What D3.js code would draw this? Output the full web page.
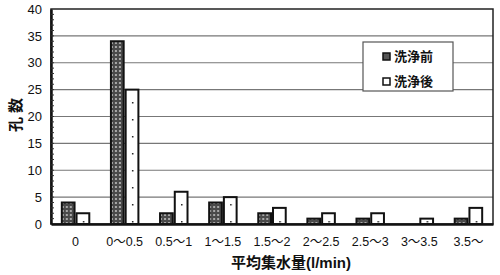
<!DOCTYPE html>
<html>
<head>
<meta charset="utf-8">
<script src="https://cdn.jsdelivr.net/npm/d3@7"></script>
<style>
  body { margin: 0; background: #fff; }
  svg { display: block; }
</style>
</head>
<body>
<div id="chart"></div>
<script>
// Data
var categories = ["0", "0～0.5", "0.5～1", "1～1.5", "1.5～2", "2～2.5", "2.5～3", "3～3.5", "3.5～"];
var seriesNames = ["洗浄前", "洗浄後"];
var before = [4, 34, 2, 4, 2, 1, 1, 0, 1];
var after = [2, 25, 6, 5, 3, 2, 2, 1, 3];
var yTicks = [0, 5, 10, 15, 20, 25, 30, 35, 40];

var W = 500, H = 275,
    font_family = "'Liberation Sans', 'Noto Sans CJK JP', sans-serif",
    margin = {top: 9, right: 7, bottom: 51, left: 51},
    width = W - margin.left - margin.right,
    height = H - margin.top - margin.bottom;

var svg = d3.select("#chart").append("svg")
  .attr("width", W)
  .attr("height", H);

// Patterns
var defs = svg.append("defs");
var p1 = defs.append("pattern")
  .attr("id", "pat-before")
  .attr("width", 4).attr("height", 4)
  .attr("patternUnits", "userSpaceOnUse");
p1.append("rect").attr("width", 4).attr("height", 4).attr("fill", "#4a4a4a");
p1.append("rect").attr("x", 1).attr("y", 1).attr("width", 2).attr("height", 2).attr("fill", "#a8a8a8");

var p2 = defs.append("pattern")
  .attr("id", "pat-after")
  .attr("width", 14).attr("height", 17)
  .attr("patternUnits", "userSpaceOnUse");
p2.append("rect").attr("width", 14).attr("height", 17).attr("fill", "#fff");
p2.append("rect").attr("x", 8).attr("y", 8).attr("width", 1.5).attr("height", 1.5).attr("fill", "#222");

var g = svg.append("g")
  .attr("transform", "translate(" + margin.left + "," + margin.top + ")");

// Scales
var x = d3.scaleBand().domain(categories).range([0, width]).paddingInner(0.4).paddingOuter(0.2);
var xs = d3.scaleBand().domain(seriesNames).range([0, x.bandwidth()]);
var y = d3.scaleLinear().domain([0, 40]).range([height, 0]);

// Grid lines
g.selectAll(".grid")
  .data(yTicks.filter(function(d){ return d > 0 && d < 40; }))
  .enter().append("line")
    .attr("x1", 0).attr("x2", width)
    .attr("y1", function(d){ return y(d); })
    .attr("y2", function(d){ return y(d); })
    .attr("stroke", "#777")
    .attr("stroke-width", 1.2);

// Bars
var groups = g.selectAll(".grp")
  .data(categories.map(function(c, i){ return {cat: c, vals: [before[i], after[i]]}; }))
  .enter().append("g")
    .attr("transform", function(d){ return "translate(" + x(d.cat) + ",0)"; });

groups.selectAll("rect")
  .data(function(d){ return d.vals.map(function(v, j){ return {name: seriesNames[j], value: v}; }); })
  .enter().append("rect")
    .filter(function(d){ return d.value > 0; })
    .attr("x", function(d){ return xs(d.name) + 1; })
    .attr("y", function(d){ return y(d.value); })
    .attr("width", xs.bandwidth() - 2)
    .attr("height", function(d){ return height - y(d.value); })
    .attr("fill", function(d, i){ return d.name == seriesNames[0] ? "url(#pat-before)" : "url(#pat-after)"; })
    .attr("stroke", "#111")
    .attr("stroke-width", 2);

// Frame (top / right)
g.append("rect")
  .attr("width", width).attr("height", height)
  .attr("fill", "none")
  .attr("stroke", "#222")
  .attr("stroke-width", 1.5);

// Y axis
var yAxis = g.append("g")
  .call(d3.axisLeft(y).tickValues(yTicks).tickSize(0).tickPadding(9));
yAxis.select(".domain").attr("stroke", "#111").attr("stroke-width", 2.5);
yAxis.selectAll("text")
  .attr("font-family", font_family)
  .attr("font-size", "13px")
  .attr("fill", "#111");

// Minor ticks
g.selectAll(".minor")
  .data(d3.range(1, 40))
  .enter().append("line")
    .attr("x1", 0).attr("x2", 3)
    .attr("y1", function(d){ return y(d); })
    .attr("y2", function(d){ return y(d); })
    .attr("stroke", "#333")
    .attr("stroke-width", 1);

// X axis
var xAxis = g.append("g")
  .attr("transform", "translate(0," + height + ")")
  .call(d3.axisBottom(x).tickSize(0).tickPadding(13));
xAxis.select(".domain").attr("stroke", "#111").attr("stroke-width", 2.5);
xAxis.selectAll("text")
  .attr("font-family", font_family)
  .attr("font-size", "12.5px")
  .attr("fill", "#111");

// Axis titles
svg.append("text")
  .attr("transform", "translate(21,115) rotate(-90)")
  .style("text-anchor", "middle")
  .attr("font-family", font_family)
  .attr("font-size", "15px")
  .attr("font-weight", "bold")
  .attr("fill", "#111")
  .text("孔  数");

svg.append("text")
  .attr("x", 291)
  .attr("y", 268)
  .style("text-anchor", "middle")
  .attr("font-family", font_family)
  .attr("font-size", "15px")
  .attr("font-weight", "bold")
  .attr("fill", "#111")
  .text("平均集水量(l/min)");

// Legend
var legend = svg.append("g").attr("transform", "translate(363,42)");
legend.append("rect")
  .attr("width", 90).attr("height", 49)
  .attr("fill", "#fff")
  .attr("stroke", "#555")
  .attr("stroke-width", 1.2);

var items = legend.selectAll(".item")
  .data(seriesNames)
  .enter().append("g")
    .attr("transform", function(d, i){ return "translate(20," + (11 + i * 25) + ")"; });

items.append("rect")
  .attr("width", 7).attr("height", 7)
  .attr("fill", function(d, i){ return i == 0 ? "#555" : "#fff"; })
  .attr("stroke", "#111")
  .attr("stroke-width", 1.5);

items.append("text")
  .attr("x", 11)
  .attr("y", 8)
  .attr("font-family", font_family)
  .attr("font-size", "13px")
  .attr("font-weight", "bold")
  .attr("fill", "#111")
  .text(function(d){ return d; });
</script>
</body>
</html>
